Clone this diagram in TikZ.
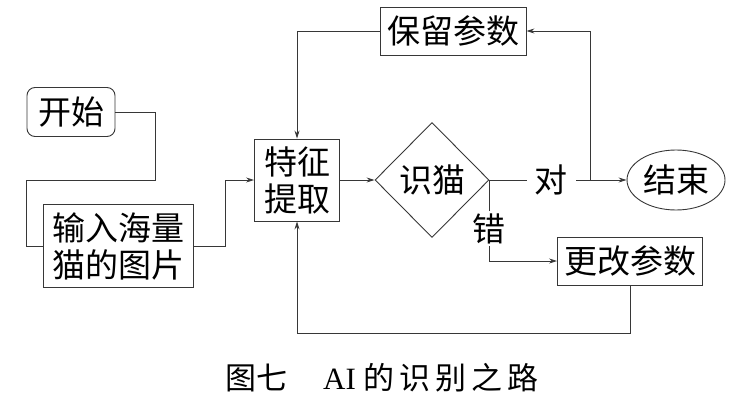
\documentclass[tikz,border=0pt]{standalone}
\usepackage{fontspec}
\setmainfont{Noto Sans CJK SC}
\newfontfamily\latin{Liberation Serif}
\usetikzlibrary{positioning,arrows.meta,shapes.geometric}
\definecolor{linea}{RGB}{55,55,55}
\newcommand\gap{\hspace{5pt}}

\begin{document}
\begin{tikzpicture}[x=1pt, y=-1pt,
  block/.style={draw=linea, line width=0.9pt, inner sep=0pt,
                minimum width=#1, minimum height=48pt, align=center,
                font=\fontsize{33}{37}\selectfont},
  block/.default=146,
  decision/.style={draw=linea, line width=0.9pt, diamond, inner sep=0pt,
                   minimum width=114pt, minimum height=115pt,
                   font=\fontsize{33}{37}\selectfont},
  term/.style={draw=linea, line width=0.9pt, ellipse, inner sep=0pt,
               minimum width=98pt, minimum height=60pt,
               font=\fontsize{33}{37}\selectfont},
  flow/.style={draw=linea, line width=0.9pt},
  arrow/.style={flow, -{Stealth[length=8pt, width=5pt]}},
  tag/.style={fill=white, inner xsep=8pt, inner ysep=2pt,
              font=\fontsize{33}{37}\selectfont}]
  \useasboundingbox (0,0) rectangle (735,401);
  \node[block=88, rounded corners=8pt, minimum height=49pt] (start) at (71,112) {开始};
  \node[block=150, minimum height=83pt] (input) at (118,246) {输入海量\\猫的图片};
  \node[block=85, minimum height=82pt] (feat) at (297,180) {特征\\提取};
  \node[decision] (cat) at (432,180) {识猫};
  \node[block] (keep) at (453,31) {保留参数};
  \node[block=145] (change) at (630,261) {更改参数};
  \node[term] (stop) at (676,180) {结束};
  \coordinate (join) at (590,180);
  \draw[flow] (start.east) -| (155,180) -| ([xshift=-16pt]input.west) -- (input.west);
  \draw[arrow] (input.east) -| (225,180) -- (feat.west);
  \draw[arrow] (feat.east) -- (cat.west);
  \draw[arrow] (cat.east) -- node[tag, pos=0.45] {对} (stop.west);
  \draw[arrow] (join) |- (keep.east);
  \draw[arrow] (keep.west) -| (feat.north);
  \draw[arrow] (cat.east) |- node[tag, pos=0.3, inner xsep=2pt] {错} (change.west);
  \draw[arrow] (change.south) -- ++(0,48) -| (feat.south);
  \node[font=\fontsize{31}{36}\selectfont] (caption) at (382,378)
    {图七\hspace{36pt}{\latin AI}\hspace{8pt}的\gap 识\gap 别\gap 之\gap 路};
\end{tikzpicture}
\end{document}
